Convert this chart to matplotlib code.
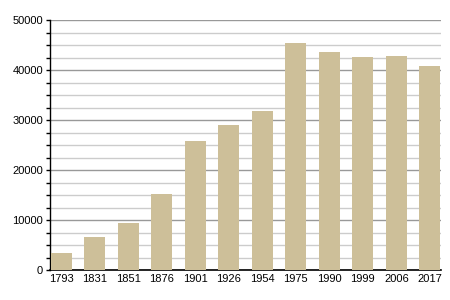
import numpy as np
import matplotlib
matplotlib.use('Agg')
import matplotlib.pyplot as plt
from matplotlib.ticker import MultipleLocator

years = ['1793', '1831', '1851', '1876', '1901', '1926', '1954',
         '1975', '1990', '1999', '2006', '2017']
population = [3400, 6600, 9400, 15200, 25850, 29050, 31850,
              45500, 43700, 42700, 42900, 40900]

plt.rcParams['font.family'] = ['Liberation Sans', 'DejaVu Sans']

fig = plt.figure(figsize=(4.5, 3), dpi=100)
ax = fig.add_axes([50/450, 30/300, 391/450, 250/300])

x = np.arange(len(years))
ax.bar(x, population, width=0.63, color='#cdbf99', zorder=3)

ax.set_xlim(-0.33, len(years) - 1 + 0.33)
ax.set_ylim(0, 50000)
ax.yaxis.set_major_locator(MultipleLocator(10000))
ax.yaxis.set_minor_locator(MultipleLocator(2500))
ax.grid(which='major', axis='y', color='#999999', linewidth=1, zorder=0)
ax.grid(which='minor', axis='y', color='#cccccc', linewidth=1, zorder=0)

ax.set_xticks(x)
ax.set_xticklabels(years)
ax.tick_params(axis='x', length=0, labelsize=8, pad=3)
ax.tick_params(axis='y', which='both', length=3, width=1, labelsize=8, pad=2)

for s in ['top', 'right']:
    ax.spines[s].set_visible(False)
ax.spines['left'].set_linewidth(1)
ax.spines['bottom'].set_linewidth(1.2)

fig.savefig('out.png', dpi=100)
